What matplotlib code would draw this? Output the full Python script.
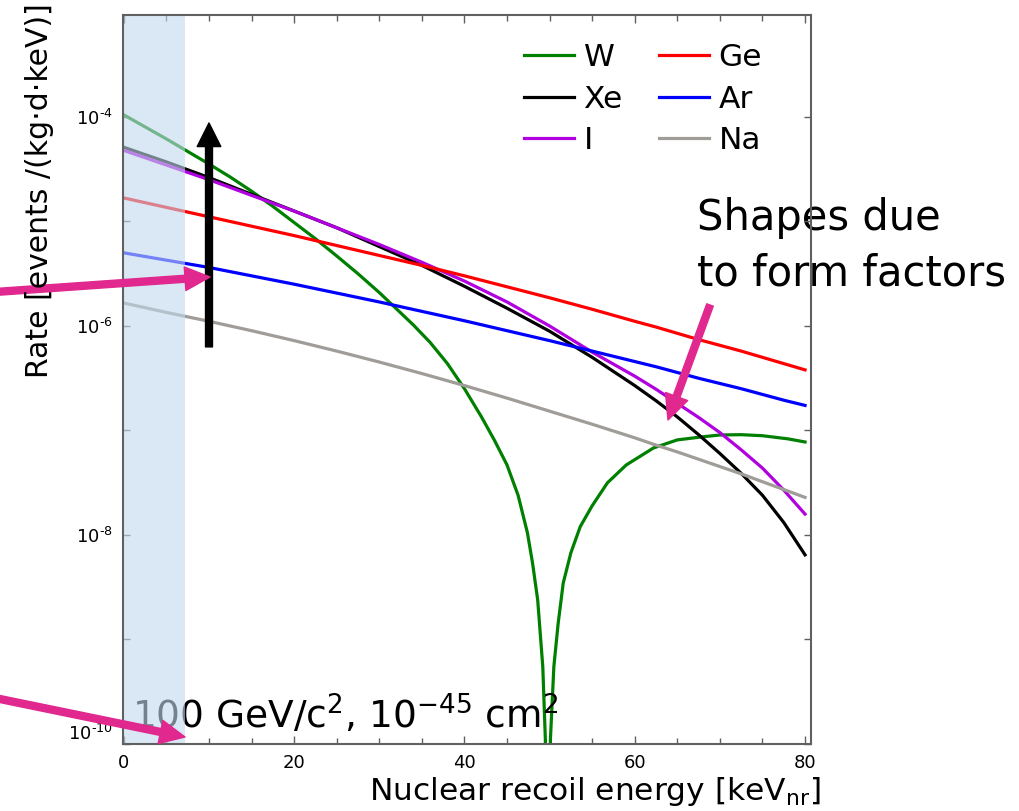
import numpy as np
import matplotlib
matplotlib.use("Agg")
import matplotlib.pyplot as plt

# recoil energy grid [keV_nr] and log10(rate)
e_grid = [0, 5, 10, 15, 20, 25, 30, 35, 40, 45, 50, 55, 60, 62.5, 65, 67.5,
          70, 72.5, 75, 77.5, 80]

xe_log = [-4.29, -4.43, -4.58, -4.74, -4.90, -5.06, -5.24, -5.42, -5.62,
          -5.83, -6.05, -6.30, -6.57, -6.715, -6.87, -7.04, -7.22, -7.41,
          -7.62, -7.88, -8.19]
i_log = [-4.32, -4.46, -4.60, -4.75, -4.90, -5.06, -5.22, -5.39, -5.57,
         -5.77, -6.00, -6.25, -6.48, -6.605, -6.74, -6.875, -7.02, -7.185,
         -7.36, -7.57, -7.80]
ge_log = [-4.775, -4.865, -4.955, -5.045, -5.135, -5.23, -5.325, -5.42,
          -5.52, -5.625, -5.73, -5.84, -5.955, -6.01, -6.07, -6.13, -6.185,
          -6.24, -6.30, -6.36, -6.42]
ar_log = [-5.30, -5.37, -5.44, -5.52, -5.60, -5.685, -5.77, -5.86, -5.95,
          -6.045, -6.14, -6.24, -6.34, -6.39, -6.445, -6.50, -6.55, -6.60,
          -6.655, -6.71, -6.76]
na_log = [-5.78, -5.87, -5.955, -6.045, -6.14, -6.24, -6.345, -6.455, -6.57,
          -6.69, -6.815, -6.94, -7.07, -7.14, -7.205, -7.275, -7.345, -7.415,
          -7.49, -7.565, -7.64]

e_w = [0, 2.5, 5, 7.5, 10, 12.5, 15, 17.5, 20, 22.5, 25, 27.5, 30, 32, 34,
       36, 38, 40, 42, 43.5, 45, 46.3, 47.4, 48.0, 48.6, 49.2, 49.5, 49.8,
       50.1, 50.5, 51.0, 51.6, 52.5, 53.6, 55, 56.8, 59, 62.2, 65, 68, 70,
       72.5, 75, 78, 80]
w_log = [-3.98, -4.095, -4.21, -4.33, -4.45, -4.575, -4.71, -4.855, -5.01,
         -5.165, -5.33, -5.50, -5.68, -5.835, -5.99, -6.16, -6.36, -6.60,
         -6.87, -7.09, -7.33, -7.62, -7.98, -8.27, -8.62, -9.26, -9.95,
         -11.5, -9.95, -9.26, -8.85, -8.46, -8.17, -7.92, -7.72, -7.50,
         -7.33, -7.167, -7.09, -7.06, -7.043, -7.04, -7.05, -7.08, -7.11]

threshold = [0, 7.2]
arrow_e = 10
arrow_log = [-6.2, -4.057]

fig = plt.figure(figsize=(10.19, 8.11), dpi=100)
ax = fig.add_axes([123 / 1019, 67 / 811, 688 / 1019, 729 / 811])

ax.plot(e_w, 10.0 ** np.array(w_log), color="#008000", lw=2.3, label="W")
ax.plot(e_grid, 10.0 ** np.array(xe_log), color="black", lw=2.3, label="Xe")
ax.plot(e_grid, 10.0 ** np.array(i_log), color="#b000e0", lw=2.3, label="I")
ax.plot(e_grid, 10.0 ** np.array(ge_log), color="#ff0000", lw=2.3, label="Ge")
ax.plot(e_grid, 10.0 ** np.array(ar_log), color="#0000ff", lw=2.3, label="Ar")
ax.plot(e_grid, 10.0 ** np.array(na_log), color="#a09c98", lw=2.3, label="Na")

ax.text(1.0, 10 ** -9.85, r"100 GeV/c$^2$, 10$^{-45}$ cm$^2$", fontsize=27,
        ha="left", va="baseline", zorder=2)

# threshold band drawn over the curves
ax.axvspan(-0.2, threshold[1], color="#c1daed", alpha=0.6, lw=0, zorder=4)

ax.annotate("", xy=(arrow_e, 10 ** arrow_log[1]), xytext=(arrow_e, 10 ** arrow_log[0]),
            arrowprops=dict(width=5, headwidth=17, headlength=17,
                            facecolor="black", edgecolor="black", shrink=0),
            zorder=5)

ax.set_yscale("log")
ax.set_xlim(-0.1, 80.7)
ax.set_ylim(1e-10, 10 ** -3.024)

ax.set_xticks([0, 20, 40, 60, 80])
ax.set_xticks(np.arange(5, 80, 5), minor=True)
ax.set_yticks([10.0 ** k for k in range(-10, -3)])
ax.set_yticks([], minor=True)
ylabels = {k: r"10$^{\text{-}%d}$" % -k for k in (-10, -8, -6, -4)}
ax.set_yticklabels([ylabels.get(k, "") for k in range(-10, -3)])
ax.tick_params(axis="both", which="both", direction="in", top=True, right=True,
               color="#606060", width=1)
ax.tick_params(axis="x", which="major", length=6, labelsize=13, pad=7)
ax.tick_params(axis="x", which="minor", length=4)
ax.tick_params(axis="y", which="major", length=5, labelsize=13, pad=7)
ax.get_yticklabels()[0].set_va("bottom")
for s in ax.spines.values():
    s.set_color("#606060")
    s.set_linewidth(1.5)
    s.set_zorder(6)

ax.legend(ncol=2, loc="upper right", frameon=False, fontsize=22.5,
          handlelength=1.6, handletextpad=0.32, columnspacing=1.15,
          labelspacing=0.4, bbox_to_anchor=(0.97, 1.0))

fig.text(595 / 1019, 11 / 811, r"Nuclear recoil energy [keV$_{\mathrm{nr}}$]",
         fontsize=22.5, ha="center", va="baseline")
fig.text(40 / 1019, 1 - 378 / 811, "Rate [events /(kg·d·keV)]", fontsize=21.5,
         rotation=90, ha="center", va="bottom")

ax.text(697 / 1019, 1 - 285 / 811, "Shapes due\nto form factors", fontsize=30,
        transform=fig.transFigure, ha="left", va="baseline", linespacing=1.38,
        clip_on=False, zorder=1)

pink = "#e0288f"
for tail, tip in [((-5, 519), (210, 534)), ((-5, 113), (185, 74)), ((710, 506), (668, 391))]:
    ax.annotate("", xy=tip, xycoords="figure pixels", xytext=tail,
                textcoords="figure pixels", annotation_clip=False, zorder=7,
                arrowprops=dict(width=5, headwidth=17, headlength=18,
                                facecolor=pink, edgecolor=pink, shrink=0))

fig.savefig("out.png", dpi=100)
